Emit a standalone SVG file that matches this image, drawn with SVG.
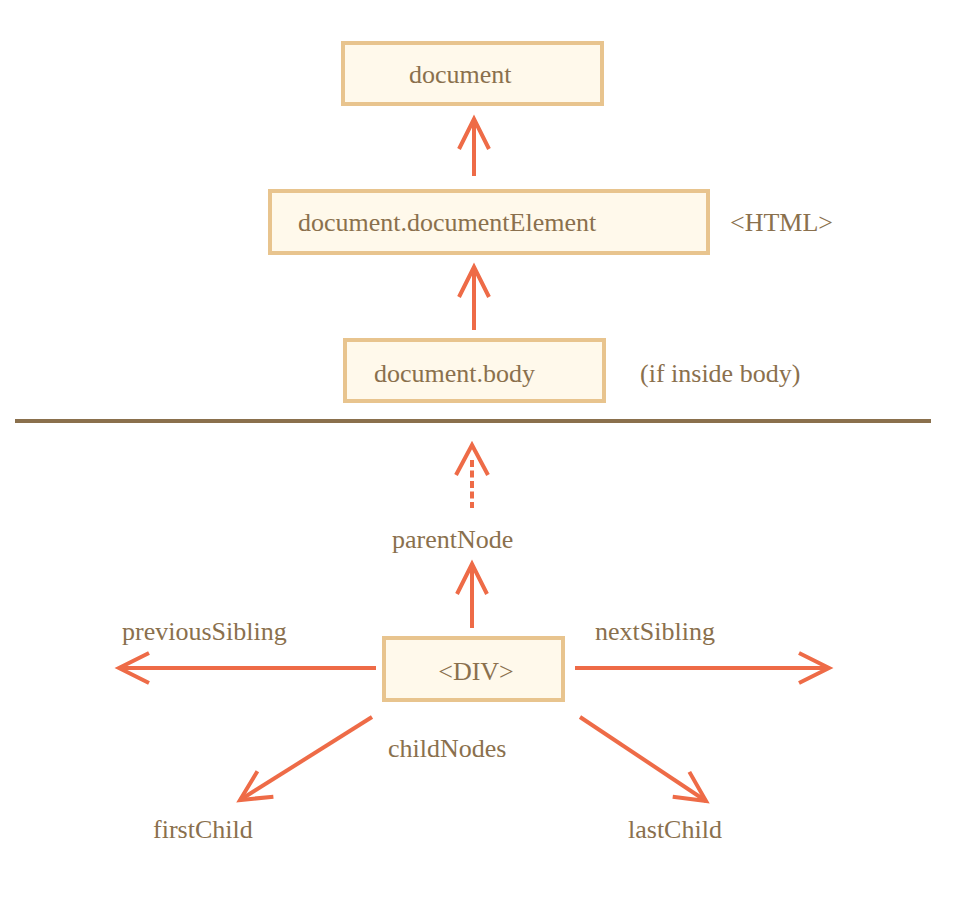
<svg xmlns="http://www.w3.org/2000/svg" width="969" height="902" viewBox="0 0 969 902">
<defs>
<style>
.box{fill:#FFF9EB;stroke:#E8C48E;stroke-width:4}
.t{font-family:"Liberation Serif","Times New Roman",serif;font-size:26px;fill:#8A704D}
.a{stroke:#EE6B47;stroke-width:4;fill:none;stroke-linecap:butt}
.d{stroke-dasharray:7 3.5}
.div{stroke:#8A704D;stroke-width:4}
</style>
<marker id="head" markerUnits="userSpaceOnUse" markerWidth="40" markerHeight="40" viewBox="-36 -20 40 40" refX="0" refY="0" orient="auto" overflow="visible">
<path d="M-30,-15 L0,0 L-30,15" fill="none" stroke="#EE6B47" stroke-width="4"/>
</marker>
</defs>
<rect width="969" height="902" fill="#FFFFFF"/>
<g id="document"><rect class="box" x="343" y="43" width="259" height="61"/><text class="t" x="409" y="83">document</text></g>
<g id="documentElement"><rect class="box" x="270" y="191" width="438" height="62"/><text class="t" x="298" y="231">document.documentElement</text></g>
<g id="html-label"><text class="t" x="730" y="231">&lt;HTML&gt;</text></g>
<g id="body"><rect class="box" x="345" y="340" width="259" height="61"/><text class="t" x="374" y="382">document.body</text></g>
<g id="body-note"><text class="t" x="640" y="382">(if inside body)</text></g>
<g id="divider"><line class="div" x1="15" y1="421" x2="931" y2="421"/></g>
<g id="div"><rect class="box" x="384" y="638" width="179" height="62"/><text class="t" x="476" y="680" text-anchor="middle">&lt;DIV&gt;</text></g>
<g id="labels">
<text class="t" x="392" y="548">parentNode</text>
<text class="t" x="122" y="640">previousSibling</text>
<text class="t" x="595" y="640">nextSibling</text>
<text class="t" x="388" y="757">childNodes</text>
<text class="t" x="153" y="838">firstChild</text>
<text class="t" x="628" y="838">lastChild</text>
</g>
<g id="connectors">
<line class="a" x1="474" y1="176" x2="474" y2="119" marker-end="url(#head)"/>
<line class="a" x1="474" y1="330" x2="474" y2="267" marker-end="url(#head)"/>
<line class="a d" x1="472" y1="460" x2="472" y2="508"/>
<path class="a" d="M456,475 L472,445 L488,475"/>
<line class="a" x1="472" y1="628" x2="472" y2="564" marker-end="url(#head)"/>
<line class="a" x1="376" y1="668" x2="119" y2="668" marker-end="url(#head)"/>
<line class="a" x1="575" y1="668" x2="829" y2="668" marker-end="url(#head)"/>
<line class="a" x1="372" y1="717" x2="240" y2="800" marker-end="url(#head)"/>
<line class="a" x1="580" y1="717" x2="706" y2="801" marker-end="url(#head)"/>
</g>
</svg>
